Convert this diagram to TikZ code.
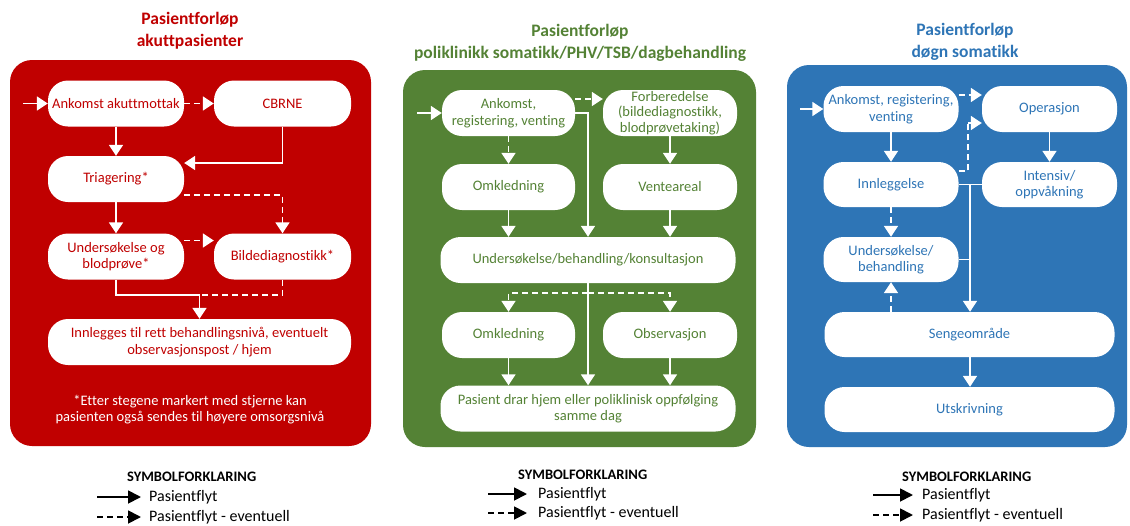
\documentclass[tikz,border=0pt]{standalone}
\usepackage{fontspec}
\setmainfont{Carlito}[Ligatures={NoCommon}]
\usetikzlibrary{arrows.meta}
\definecolor{akutt}{HTML}{C00000}
\definecolor{poli}{HTML}{548235}
\definecolor{dogn}{HTML}{2E75B6}

\begin{document}
\begin{tikzpicture}[x=1pt,y=-1pt,
  panel/.style={rounded corners=22pt},
  stepnode/.style={rectangle, rounded corners=20pt, fill=white, align=center,
    inner sep=1pt, minimum height=46pt, font=\fontsize{14.5}{16.5}\selectfont},
  flow/.style={white, line width=1.8pt},
  arr/.style={flow, -{Triangle[width=14pt,length=11pt]}},
  opt/.style={dash pattern=on 6pt off 4pt},
  heading/.style={font=\fontsize{17.5}{22}\bfseries\selectfont, align=center},
  legendhead/.style={anchor=west, inner sep=0pt, font=\fontsize{14.5}{16}\bfseries\selectfont},
  legendtext/.style={anchor=west, inner sep=0pt, font=\fontsize{16}{18}\selectfont},
  legarr/.style={black, line width=1.8pt, -{Triangle[width=13pt,length=13pt]}},
]
\useasboundingbox (0,0) rectangle (1130,525);
\fill[white] (0,0) rectangle (1130,525);

% ---------------- Akuttpasienter ----------------
\node[heading, text=akutt] (t1) at (190,31) {Pasientforløp\\akuttpasienter};
\fill[akutt, panel] (10,60) rectangle (371,446);
\begin{scope}[every node/.append style={text=akutt}]
\node[stepnode, minimum width=136pt] (a1) at (116,103.5) {Ankomst akuttmottak};
\node[stepnode, minimum width=137pt] (cb) at (282.5,103.5) {CBRNE};
\node[stepnode, minimum width=136pt] (tr) at (116,179) {Triagering*};
\node[stepnode, minimum width=136pt] (us) at (116,256.5) {Undersøkelse og\\blodprøve*};
\node[stepnode, minimum width=137pt] (bd) at (282.5,256.5) {Bildediagnostikk*};
\node[stepnode, minimum width=303pt] (inn) at (199.5,342) {Innlegges til rett behandlingsnivå, eventuelt\\observasjonspost / hjem};
\end{scope}
\node[font=\fontsize{14.5}{15.5}\selectfont, text=white, align=center] (fn) at (190,409.5)
  {*Etter stegene markert med stjerne kan\\pasienten også sendes til høyere omsorgsnivå};

\coordinate (e1) at (23,103.5);
\coordinate (j1) at (199.5,295);
\draw[arr] (e1) -- (a1);
\draw[arr, opt] (a1) -- (cb);
\draw[arr] (a1) -- (tr);
\draw[arr] (cb.south) |- ([yshift=16pt]tr.east);
\draw[arr, opt] ([yshift=-16pt]tr.east) -| (bd.north);
\draw[arr] (tr) -- (us);
\draw[arr, opt] ([yshift=16pt]us.east) -- ([yshift=16pt]bd.west);
\draw[flow] (us.south) |- (j1);
\draw[flow, opt] (bd.south) |- (j1);
\draw[arr] (j1) -- (inn.north);

% ---------------- Poliklinikk ----------------
\node[heading, text=poli] (t2) at (580,42.5) {Pasientforløp\\poliklinikk somatikk/PHV/TSB/dagbehandling};
\fill[poli, panel] (403,70) rectangle (756,447);
\begin{scope}[every node/.append style={text=poli}]
\node[stepnode, minimum width=133pt] (g1) at (508.5,113) {Ankomst,\\registering, venting};
\node[stepnode, minimum width=134pt, inner sep=0pt, font=\fontsize{14.5}{15.5}\selectfont] (g2) at (670,113) {Forberedelse\\(bildediagnostikk,\\blodprøvetaking)};
\node[stepnode, minimum width=133pt] (g3) at (508.5,187) {Omkledning};
\node[stepnode, minimum width=134pt] (g4) at (670,187) {Venteareal};
\node[stepnode, minimum width=295pt] (g5) at (588,260) {Undersøkelse/behandling/konsultasjon};
\node[stepnode, minimum width=133pt] (g6) at (508.5,335) {Omkledning};
\node[stepnode, minimum width=134pt] (g7) at (670,335) {Observasjon};
\node[stepnode, minimum width=295pt] (g8) at (588,408.5) {Pasient drar hjem eller poliklinisk oppfølging\\samme dag};
\end{scope}

\coordinate (e2) at (417,113);
\coordinate (j3) at (588,293);
\draw[arr] (e2) -- (g1);
\draw[arr, opt] ([yshift=14pt]g1.east) -- ([yshift=14pt]g2.west);
\draw[arr, opt] (g1) -- (g3);
\draw[arr] (g1.east) -| (g5.north);
\draw[arr] (g2) -- (g4);
\draw[arr] (g3) -- (g3 |- g5.north);
\draw[arr] (g4) -- (g4 |- g5.north);
\draw[arr, opt] (j3) -| (g6.north);
\draw[arr, opt] (j3) -| (g7.north);
\draw[arr] (g5) -- (g8);
\draw[arr] (g6) -- (g6 |- g8.north);
\draw[arr] (g7) -- (g7 |- g8.north);

% ---------------- Døgn somatikk ----------------
\node[heading, text=dogn] (t3) at (965,42) {Pasientforløp\\døgn somatikk};
\fill[dogn, panel] (787,65) rectangle (1127,447);
\begin{scope}[every node/.append style={text=dogn}]
\node[stepnode, minimum width=135pt] (b1) at (891,109) {Ankomst, registering,\\venting};
\node[stepnode, minimum width=135pt] (b2) at (1049.5,109) {Operasjon};
\node[stepnode, minimum width=135pt, minimum height=45pt] (b3) at (891,184.5) {Innleggelse};
\node[stepnode, minimum width=135pt, minimum height=45pt] (b4) at (1049.5,184.5) {Intensiv/\\oppvåkning};
\node[stepnode, minimum width=135pt, minimum height=45pt] (b5) at (891,259.5) {Undersøkelse/\\behandling};
\node[stepnode, minimum width=290pt, minimum height=45pt] (b6) at (969.5,334.5) {Sengeområde};
\node[stepnode, minimum width=290pt, minimum height=45pt] (b7) at (969.5,409.5) {Utskrivning};
\end{scope}

\coordinate (e3) at (800,109);
\coordinate (d1) at (968,123);
\coordinate (v3) at (970,184.5);
\draw[arr] (e3) -- (b1);
\draw[arr, opt] ([yshift=14pt]b1.east) -- ([yshift=14pt]b2.west);
\draw[arr] (b1) -- (b3);
\draw[flow, opt] ([yshift=13.5pt]b3.east) -| (d1);
\draw[arr, opt] (d1) -- (d1 -| b2.west);
\draw[arr] (b2) -- (b4);
\draw[flow] (b3.east) -- (b4.west);
\draw[arr] (v3) -- (v3 |- b6.north);
\draw[flow] (b5.east) -- (b5.east -| v3);
\draw[arr, opt] (b3) -- (b5);
\draw[arr, opt] (b5.south |- b6.north) -- (b5.south);
\draw[arr] (v3 |- b6.south) -- (v3 |- b7.north);

% ---------------- Symbolforklaring ----------------
\node[legendhead] (lh1) at (127,477) {SYMBOLFORKLARING};
\coordinate (la1) at (97,497);  \coordinate (lb1) at (141,497);
\coordinate (lc1) at (97,517);  \coordinate (ld1) at (141,517);
\draw[legarr] (la1) -- (lb1);
\draw[legarr, opt] (lc1) -- (ld1);
\node[legendtext] (lt1) at (149,497) {Pasientflyt};
\node[legendtext] (lu1) at (149,517) {Pasientflyt - eventuell};

\node[legendhead] (lh2) at (518,475) {SYMBOLFORKLARING};
\coordinate (la2) at (488,494);  \coordinate (lb2) at (527,494);
\coordinate (lc2) at (488,513);  \coordinate (ld2) at (527,513);
\draw[legarr] (la2) -- (lb2);
\draw[legarr, opt] (lc2) -- (ld2);
\node[legendtext] (lt2) at (538,494) {Pasientflyt};
\node[legendtext] (lu2) at (538,513) {Pasientflyt - eventuell};

\node[legendhead] (lh3) at (902,477) {SYMBOLFORKLARING};
\coordinate (la3) at (873,495);  \coordinate (lb3) at (913,495);
\coordinate (lc3) at (873,515);  \coordinate (ld3) at (913,515);
\draw[legarr] (la3) -- (lb3);
\draw[legarr, opt] (lc3) -- (ld3);
\node[legendtext] (lt3) at (922,495) {Pasientflyt};
\node[legendtext] (lu3) at (922,515) {Pasientflyt - eventuell};
\end{tikzpicture}
\end{document}
